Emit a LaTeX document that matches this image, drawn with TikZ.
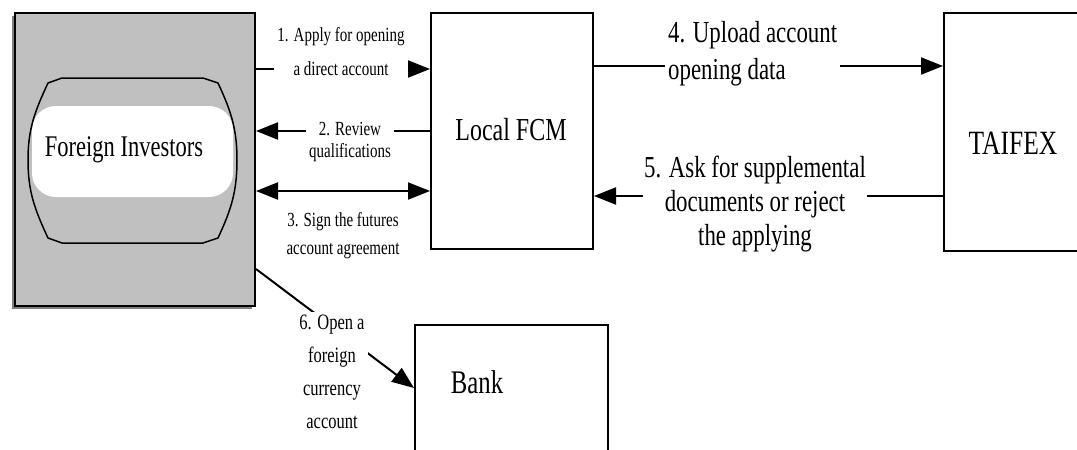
\documentclass[tikz,border=0pt]{standalone}
\usepackage{fontspec}
\setmainfont{Liberation Serif}[FakeStretch=0.75]
\usetikzlibrary{arrows.meta,shadows}

\definecolor{boxgray}{HTML}{C0C0C0}

\tikzset{
  box/.style={draw, line width=2pt, rectangle, inner sep=0pt, anchor=north west},
  arr/.style={line width=2pt, -{Triangle[length=22pt,width=17pt]}},
  lbl/.style={fill=white, inner sep=3pt, align=center},
  small/.style={font=\fontsize{20}{#1}\selectfont},
  big/.style={font=\fontsize{30.5}{#1}\selectfont},
}

\begin{document}
\begin{tikzpicture}[x=1pt,y=-1pt]
\useasboundingbox (0,0) rectangle (1077,450);
\clip (0,0) rectangle (1077,450);

% boxes
\node[box, fill=boxgray, minimum width=240pt, minimum height=293pt,
  drop shadow={shadow xshift=-3pt, shadow yshift=-3pt, fill=gray, opacity=1}] (fi) at (14,12) {};
\fill[white, rounded corners=24pt] (32,106) rectangle (233,197);
\draw[line width=1.5pt, line join=round] (62,78) -- (203,78) -- (218,83)
  to[out=-65,in=90] (237,160) to[out=-90,in=65] (218,238) -- (203,243) -- (62,243) -- (48,238)
  to[out=115,in=-90] (28,160) to[out=90,in=-115] (48,83) -- cycle;
\node[font=\fontsize{30}{36}\selectfont] (fitxt) at (124,150) {Foreign Investors};

\node[box, minimum width=162pt, minimum height=236pt] (fcm) at (430,12) {};
\node[font=\fontsize{32}{38}\selectfont] (fcmtxt) at (511,130) {Local FCM};

\node[box, minimum width=140pt, minimum height=238pt] (taifex) at (943,12) {};
\node[font=\fontsize{34}{40}\selectfont] (taifextxt) at (1013,143) {TAIFEX};

\node[box, minimum width=193pt, minimum height=150pt] (bank) at (414,324) {};
\node[font=\fontsize{33}{40}\selectfont] (banktxt) at (477,382) {Bank};

% arrow levels
\coordinate (r1) at (0,69);
\coordinate (r2) at (0,131);
\coordinate (r3) at (0,191);
\coordinate (r4) at (0,66);
\coordinate (r5) at (0,196);
\coordinate (r6) at (0,269);
\coordinate (r6b) at (0,388);

% arrows
\draw[arr] (fi.east |- r1) -- (fcm.west |- r1);
\draw[arr] (fcm.west |- r2) -- (fi.east |- r2);
\draw[arr, {Triangle[length=22pt,width=17pt]}-{Triangle[length=22pt,width=17pt]}] (fi.east |- r3) -- (fcm.west |- r3);
\draw[arr] (fcm.east |- r4) -- (taifex.west |- r4);
\draw[arr] (taifex.west |- r5) -- (fcm.east |- r5);
\draw[arr] (fi.east |- r6) -- (bank.west |- r6b);

% labels
\node[lbl, small=34] (l1) at (341,52) {1. Apply for opening\\a direct account};
\node[lbl, small=22] (l2) at (350,142) {2. Review\\qualifications};
\node[lbl, small=28] (l3) at (343,236) {3. Sign the futures\\account agreement};
\node[lbl, big=37, align=left, anchor=west] (l4) at (665,53.5) {4. Upload account\\opening data};
\node[lbl, big=34, inner sep=1pt] (l5) at (755,204) {5. Ask for supplemental\\documents or reject\\the applying};
\node[lbl, font=\fontsize{22}{33}\selectfont] (l6) at (332,372) {6. Open a\\foreign\\currency\\account};

\end{tikzpicture}
\end{document}
